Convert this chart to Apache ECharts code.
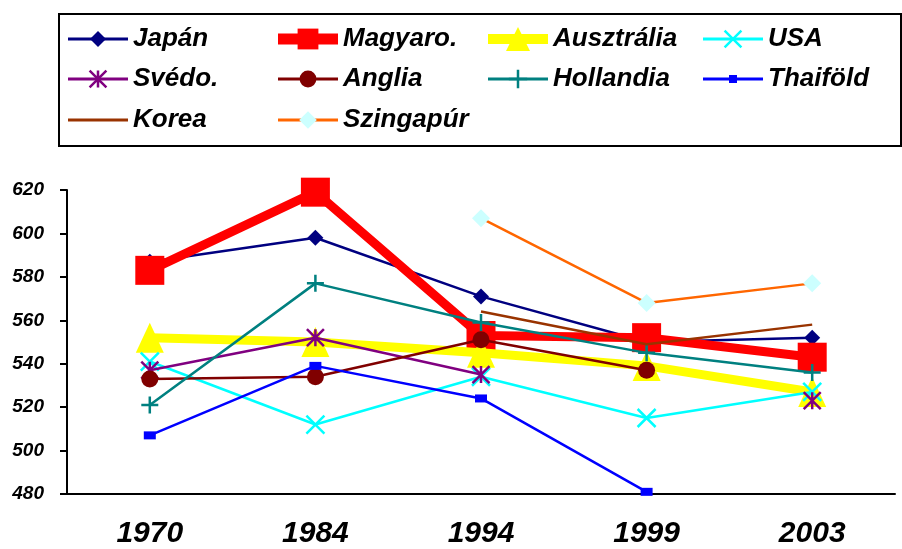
<!DOCTYPE html>
<html>
<head>
<meta charset="utf-8">
<script src="https://cdn.jsdelivr.net/npm/echarts@6/dist/echarts.min.js"></script>
<style>
  html, body { margin: 0; padding: 0; background: #fff; }
  #chart { width: 902px; height: 549px; }
</style>
</head>
<body>
<div id="chart"></div>
<script>
// science scores by year
var years = ['1970', '1984', '1994', '1999', '2003'];
var japan = [587, 598, 571, 550, 552];
var hungary = [583, 619, 553, 552, 543];
var australia = [552, 550, 545, 539, 527];
var usa = [541, 512, 534, 515, 527];
var sweden = [537, 552, 535, null, 523];
var england = [533, 534, 551, 537, null];
var netherlands = [521, 577, 559, 545, 536];
var thailand = [507, 539, 524, 481, null];
var korea = [null, null, 564, 549, 558];
var singapore = [null, null, 607, 568, 577];

var names = ['Japán', 'Magyaro.', 'Ausztrália', 'USA', 'Svédo.', 'Anglia', 'Hollandia', 'Thaiföld', 'Korea', 'Szingapúr'];
var values = [japan, hungary, australia, usa, sweden, england, netherlands, thailand, korea, singapore];

var X_PATH = 'path://M0,0L10,10M10,0L0,10';
var STAR_PATH = 'path://M5,0L5,10M0,0L10,10M10,0L0,10';
var PLUS_PATH = 'path://M5,0L5,10M0,5L10,5';

var looks = [
  { line: '#000080', fill: '#000080', symbol: 'diamond', size: 16, width: 2.5, legendH: 20, legendW: 3 },
  { line: '#FF0000', fill: '#FF0000', symbol: 'rect', size: 29, width: 9, legendH: 26, legendW: 11 },
  { line: '#FFFF00', fill: '#FFFF00', symbol: 'triangle', size: [28, 30], width: 9, legendH: 30, legendW: 10 },
  { line: '#00FFFF', stroke: '#00FFFF', symbol: X_PATH, size: 18, width: 2.5, legendH: 21, legendW: 3 },
  { line: '#800080', stroke: '#800080', symbol: STAR_PATH, size: 17, width: 2.5, legendH: 21, legendW: 3 },
  { line: '#800000', fill: '#800000', symbol: 'circle', size: 17, width: 2.5, legendH: 21, legendW: 3 },
  { line: '#008080', stroke: '#008080', symbol: PLUS_PATH, size: 17, width: 2.5, legendH: 23, legendW: 3 },
  { line: '#0000FF', fill: '#0000FF', symbol: 'rect', size: [12, 8], width: 2.5, legendH: 10, legendW: 3 },
  { line: '#993300', fill: '#993300', symbol: 'none', size: 0, width: 2.5, legendH: 1, legendW: 3 },
  { line: '#FF6600', fill: '#CCFFFF', symbol: 'diamond', size: 18, width: 2.5, legendH: 22, legendW: 3 }
];

var font = 'Liberation Sans, Arial, sans-serif';
var legendFont = 26;
var legendCols = [68, 278, 488, 703];
var legendRows = [37, 77, 118];

var chart = echarts.init(document.getElementById('chart'));

var series = names.map(function (name, i) {
  var look = looks[i];
  var itemStyle = look.stroke
    ? { color: 'rgba(0,0,0,0)', borderColor: look.stroke, borderWidth: 2.5 }
    : { color: look.fill };
  return {
    name: name,
    type: 'line',
    data: values[i],
    z: 2 + i,
    symbol: look.symbol,
    symbolSize: look.size,
    showSymbol: look.symbol !== 'none',
    connectNulls: false,
    animation: false,
    itemStyle: itemStyle,
    lineStyle: { color: look.line, width: look.width },
    emphasis: { disabled: true }
  };
});

// one legend per item so the four columns line up like the original box
var legends = names.map(function (name, i) {
  var look = looks[i];
  return {
    data: [name],
    left: legendCols[i % 4] - look.legendW / 2,
    top: legendRows[Math.floor(i / 4)] - 11,
    padding: 0,
    itemWidth: 60,
    itemHeight: look.legendH,
    selectedMode: false,
    lineStyle: { width: look.legendW, color: look.line },
    itemStyle: look.stroke ? { borderWidth: 2.5 } : {},
    textStyle: {
      fontFamily: font, fontSize: legendFont, fontWeight: 'bold', fontStyle: 'italic',
      color: '#000', lineHeight: legendFont
    }
  };
});

var option = {
  backgroundColor: '#fff',
  animation: false,
  legend: legends,
  graphic: [{
    type: 'rect',
    shape: { x: 59, y: 14, width: 842, height: 132 },
    style: { fill: 'none', stroke: '#000', lineWidth: 2 },
    silent: true
  }],
  grid: { left: 67, right: 7, top: 190, bottom: 55, outerBoundsMode: 'none' },
  xAxis: {
    type: 'category',
    data: years,
    boundaryGap: true,
    axisLine: { lineStyle: { color: '#000', width: 2 } },
    axisTick: { length: 8, lineStyle: { color: '#000', width: 2 } },
    axisLabel: {
      margin: 25, color: '#000', fontFamily: font, fontSize: 30,
      fontWeight: 'bold', fontStyle: 'italic'
    },
    splitLine: { show: false }
  },
  yAxis: {
    type: 'value',
    min: 480,
    max: 620,
    interval: 20,
    axisLine: { show: true, lineStyle: { color: '#000', width: 2 } },
    axisTick: { show: true, length: 7, lineStyle: { color: '#000', width: 2 } },
    axisLabel: {
      margin: 23, color: '#000', fontFamily: font, fontSize: 19,
      fontWeight: 'bold', fontStyle: 'italic'
    },
    splitLine: { show: false }
  },
  series: series
};

chart.setOption(option);
</script>
</body>
</html>
